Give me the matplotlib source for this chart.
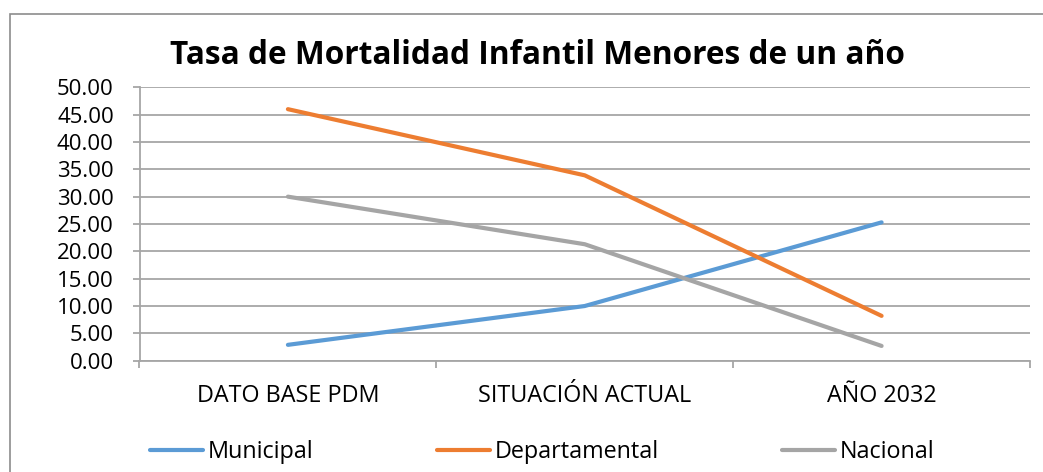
import matplotlib
matplotlib.use("Agg")
import matplotlib.pyplot as plt
from matplotlib.patches import Rectangle

categories = ["DATO BASE PDM", "SITUACIÓN ACTUAL", "AÑO 2032"]
municipal = [2.9, 10.0, 25.3]
departamental = [46.0, 33.9, 8.2]
nacional = [30.0, 21.3, 2.7]
yticks = [0, 5, 10, 15, 20, 25, 30, 35, 40, 45, 50]

plt.rcParams["font.family"] = ["Open Sans", "DejaVu Sans"]

W, H = 1043, 472
fig = plt.figure(figsize=(W / 100, H / 100), dpi=100)
fig.patch.set_facecolor("white")

# outer chart frame
fig.patches.append(Rectangle((10 / W, -0.05), 1.1, 1 - 13.5 / H + 0.05,
                             transform=fig.transFigure, fill=False,
                             edgecolor="#8c8c8c", linewidth=1.2))

left, right = 139.5 / W, 1030 / W
bottom, top = 1 - 360.7 / H, 1 - 87.3 / H
ax = fig.add_axes([left, bottom, right - left, top - bottom])

x = list(range(len(categories)))
grid_c = "#a6a6a6"
for v in yticks:
    ax.axhline(v, color=grid_c, linewidth=1.3, zorder=1)

ax.plot(x, municipal, color="#5b9bd5", linewidth=3.0, label="Municipal",
        solid_capstyle="round", zorder=3)
ax.plot(x, departamental, color="#ed7d31", linewidth=3.0, label="Departamental",
        solid_capstyle="round", zorder=3)
ax.plot(x, nacional, color="#a5a5a5", linewidth=3.0, label="Nacional",
        solid_capstyle="round", zorder=3)

ax.set_xlim(-0.5, len(categories) - 0.5)
ax.set_ylim(0, 50)
ax.set_yticks(yticks)
ax.set_yticklabels([f"{v:.2f}" for v in yticks])
ax.set_xticks([i - 0.5 for i in range(len(categories) + 1)], minor=False)
ax.set_xticklabels([])
ax.set_xticks(x, minor=True)
ax.set_xticklabels(categories, minor=True)

for s in ["top", "right"]:
    ax.spines[s].set_visible(False)
for s in ["left", "bottom"]:
    ax.spines[s].set_color(grid_c)
    ax.spines[s].set_linewidth(1.3)

ax.tick_params(axis="y", length=5, width=1.3, color=grid_c, pad=13.5,
               labelsize=16, labelcolor="black")
ax.tick_params(axis="x", which="major", length=5, width=1.3, color=grid_c)
ax.tick_params(axis="x", which="minor", length=0, pad=17,
               labelsize=16.8, labelcolor="black")

fig.text(537.5 / W, 1 - 56 / H, "Tasa de Mortalidad Infantil Menores de un año",
         ha="center", va="center", fontsize=22.8, fontweight="bold")

fig.legend(loc="center", bbox_to_anchor=(542.5 / W, 1 - 452 / H), ncol=3,
           frameon=False, fontsize=16.8, handlelength=2.25, handletextpad=0.21,
           columnspacing=5.3)

fig.savefig("out.png", dpi=100, facecolor="white")
